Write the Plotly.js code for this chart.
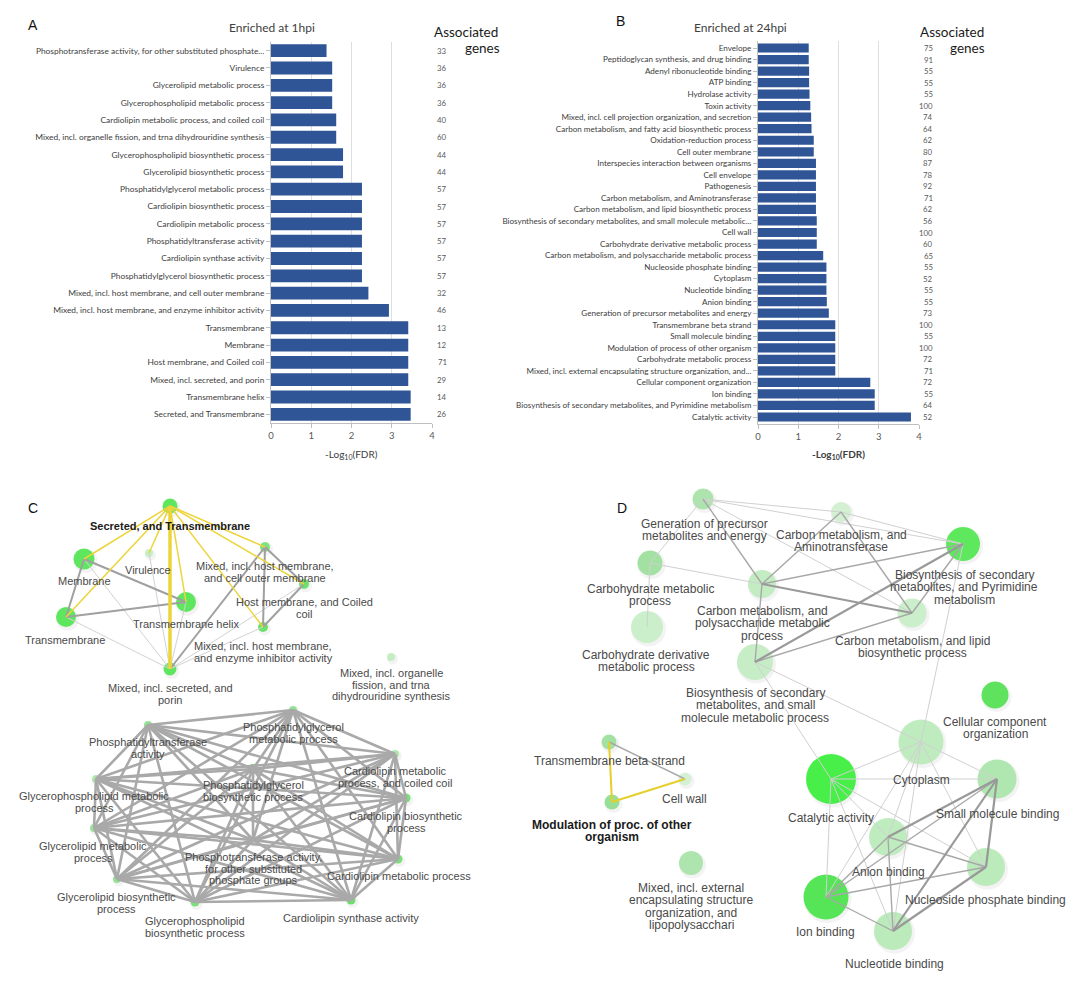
<!DOCTYPE html>
<html><head><meta charset="utf-8">
<script src="https://cdn.plot.ly/plotly-3.0.1.min.js"></script>
<style>html,body{margin:0;padding:0;background:#fff}#chart{width:1080px;height:981px}</style>
</head><body><div id="chart"></div>
<script>
// ---------- Panel A data ----------
const termsA = ["Phosphotransferase activity, for other substituted phosphate...","Virulence","Glycerolipid metabolic process","Glycerophospholipid metabolic process","Cardiolipin metabolic process, and coiled coil","Mixed, incl. organelle fission, and trna dihydrouridine synthesis","Glycerophospholipid biosynthetic process","Glycerolipid biosynthetic process","Phosphatidylglycerol metabolic process","Cardiolipin biosynthetic process","Cardiolipin metabolic process","Phosphatidyltransferase activity","Cardiolipin synthase activity","Phosphatidylglycerol biosynthetic process","Mixed, incl. host membrane, and cell outer membrane","Mixed, incl. host membrane, and enzyme inhibitor activity","Transmembrane","Membrane","Host membrane, and Coiled coil","Mixed, incl. secreted, and porin","Transmembrane helix","Secreted, and Transmembrane"];
const fdrA = [1.38,1.52,1.52,1.52,1.62,1.62,1.79,1.79,2.26,2.26,2.26,2.26,2.26,2.26,2.42,2.93,3.41,3.41,3.41,3.41,3.47,3.47];
const genesA = [33,36,36,36,40,60,44,44,57,57,57,57,57,57,32,46,13,12,71,29,14,26];

// ---------- Panel B data ----------
const termsB = ["Envelope","Peptidoglycan synthesis, and drug binding","Adenyl ribonucleotide binding","ATP binding","Hydrolase activity","Toxin activity","Mixed, incl. cell projection organization, and secretion","Carbon metabolism, and fatty acid biosynthetic process","Oxidation-reduction process","Cell outer membrane","Interspecies interaction between organisms","Cell envelope","Pathogenesis","Carbon metabolism, and Aminotransferase","Carbon metabolism, and lipid biosynthetic process","Biosynthesis of secondary metabolites, and small molecule metabolic...","Cell wall","Carbohydrate derivative metabolic process","Carbon metabolism, and polysaccharide metabolic process","Nucleoside phosphate binding","Cytoplasm","Nucleotide binding","Anion binding","Generation of precursor metabolites and energy","Transmembrane beta strand","Small molecule binding","Modulation of process of other organism","Carbohydrate metabolic process","Mixed, incl. external encapsulating structure organization, and...","Cellular component organization","Ion binding","Biosynthesis of secondary metabolites, and Pyrimidine metabolism","Catalytic activity"];
const fdrB = [1.26,1.26,1.27,1.27,1.28,1.30,1.32,1.33,1.385,1.385,1.44,1.44,1.44,1.44,1.44,1.46,1.46,1.46,1.62,1.70,1.70,1.70,1.71,1.76,1.92,1.92,1.92,1.92,1.92,2.79,2.90,2.90,3.80];
const genesB = [75,91,55,55,55,100,74,64,62,80,87,78,92,71,62,56,100,60,65,55,52,55,55,73,100,55,100,72,71,72,55,64,52];

// ---------- Panel C network ----------
const nodesC = ["Secreted, and Transmembrane","Membrane","Virulence","Transmembrane helix","Transmembrane","Mixed, incl. host membrane,\nand cell outer membrane","Host membrane, and Coiled\ncoil","Mixed, incl. host membrane,\nand enzyme inhibitor activity","Mixed, incl. secreted, and\nporin","Mixed, incl. organelle\nfission, and trna\ndihydrouridine synthesis","Phosphatidylglycerol\nmetabolic process","Phosphatidyltransferase\nactivity","Cardiolipin metabolic\nprocess, and coiled coil","Phosphatidylglycerol\nbiosynthetic process","Glycerophospholipid metabolic\nprocess","Cardiolipin biosynthetic\nprocess","Glycerolipid metabolic\nprocess","Phosphotransferase activity,\nfor other substituted\nphosphate groups","Cardiolipin metabolic process","Glycerolipid biosynthetic\nprocess","Glycerophospholipid\nbiosynthetic process","Cardiolipin synthase activity"];
const cX = [170,84,149,186,66,265,304,263,170,391,293,148,395,253,96,406,94,253,398,117,195,351];
const cY = [506,559,553,602,617,547,584,627,669,657,710,725,754,769,779,798,828,840,859,879,902,900];
const cSize = [15,21,8,20,20,10,10,10,13,8,8,8,8,10,8,9,8,7,9,8,9,9];
const cColor = ["#1fdf1f","#1fe01f","#b0eeb0","#1fe01f","#1fe01f","#4edb4e","#2fdc2f","#2fdc2f","#1fdf1f","#aeeaae","#6cd96c","#6cd96c","#8fe08f","#2fcc2f","#8fe08f","#44d844","#7bdc7b","#9ddd9d","#44d844","#6cd96c","#44d844","#33d633"];
const cLabX = [170,84,148,186,65,265,304,263,170,391,293,148,395,253,94,406,93,253,399,116,195,351];
const cLabY = [526,581,570,624,640,566,602,646,688,673,727,742,771,785,796,816,846,857,876,897,921,918];
const cBold = [0];
const edgesCYellow = [[0,1],[0,2],[0,3],[0,4],[0,5],[0,6],[0,7]];
const edgesCYellowThick = [[0,8]];
const edgesCGray = [[1,4],[1,3],[4,3],[5,6],[5,7],[6,7],[8,5]];
const edgesCLight = [[1,8],[4,8],[2,8],[3,8],[8,7],[8,6]];
const edgesCCluster = [[10,11],[10,12],[10,13],[10,14],[10,15],[10,16],[10,17],[10,18],[10,19],[10,20],[10,21],
 [11,12],[11,13],[11,14],[11,15],[11,16],[11,17],[11,18],[11,19],[11,20],[11,21],
 [12,13],[12,14],[12,15],[12,16],[12,17],[12,18],[12,19],[12,20],[12,21],
 [13,14],[13,15],[13,16],[13,17],[13,18],[13,19],[13,20],[13,21],
 [14,15],[14,16],[14,17],[14,18],[14,19],[14,20],[14,21],
 [15,16],[15,17],[15,18],[15,19],[15,20],[15,21],
 [16,17],[16,18],[16,19],[16,20],[16,21],
 [17,18],[17,19],[17,20],[17,21],
 [18,19],[18,20],[18,21],
 [19,20],[19,21],
 [20,21]];

// ---------- Panel D network ----------
const nodesD = ["Generation of precursor\nmetabolites and energy","Carbon metabolism, and\nAminotransferase","Biosynthesis of secondary\nmetabolites, and Pyrimidine\nmetabolism","Carbohydrate metabolic\nprocess","Carbon metabolism, and\npolysaccharide metabolic\nprocess","Carbon metabolism, and lipid\nbiosynthetic process","Carbohydrate derivative\nmetabolic process","Biosynthesis of secondary\nmetabolites, and small\nmolecule metabolic process","Cellular component\norganization","Cytoplasm","Catalytic activity","Small molecule binding","Anion binding","Nucleoside phosphate binding","Ion binding","Nucleotide binding","Transmembrane beta strand","Cell wall","Modulation of proc. of other\norganism","Mixed, incl. external\nencapsulating structure\norganization, and\nlipopolysacchari"];
const dX = [703,841,963,650,762,912,647,755,995,921,831,997,888,986,826,893,609,685,612,691];
const dY = [499,512,544,563,584,613,627,662,695,742,779,779,837,867,897,931,742,779,802,863];
const dSize = [21,20,34,25,28,29,32,36,27,45,50,39,38,38,45,38,15,13,15,24];
const dColor = ["#8fdc8f","#c4eec4","#1ee21e","#80d880","#aee8ae","#b8ecb8","#b9ecb9","#b3e9b3","#1fdc1f","#a8e8a8","#00ec00","#93e193","#a8e8a8","#a2e5a2","#12de12","#a2e5a2","#80d880","#c8f0c8","#6fd46f","#90dd90"];
const dLabX = [704,841,964,650,762,912,646,755,995,921,831,997,888,985,825,894,609,684,612,691];
const dLabY = [524,535,575,589,611,641,655,693,722,780,818,814,872,900,932,964,761,799,825,888];
const dBold = [18];
const edgesDThin = [[0,1],[0,2],[0,3],[0,5],[1,2],[3,6],[3,4],[2,9],[7,9],[7,10],[9,10],[9,11],[9,12],[9,13],[9,14],[9,15],[10,11],[10,14],[10,13],[10,15],[10,12]];
const edgesDMid = [[0,4],[1,4],[1,5],[4,2],[5,2],[7,5],[4,7],[16,17],[12,13],[12,15],[12,14],[14,11],[14,13],[14,15]];
const edgesDThick = [[4,5],[7,2],[12,11],[11,13],[11,15],[13,15]];
const edgesDYellow = [[16,18],[18,17]];

// ---------- Build ----------
const PX = v => v/1080, PY = v => 1 - v/981;
const barFont = 'Lato, "Liberation Sans", sans-serif';
const netFont = '"Liberation Sans", Arial, sans-serif';
const traces = [];

traces.push({type:'bar', orientation:'h', x:fdrA, y:termsA, xaxis:'x', yaxis:'y', width:0.74,
  marker:{color:'#2F5597'}, hoverinfo:'none', showlegend:false});
traces.push({type:'bar', orientation:'h', x:fdrB, y:termsB, xaxis:'x2', yaxis:'y2', width:0.8,
  marker:{color:'#2F5597'}, hoverinfo:'none', showlegend:false});

function nodeTraces(X, Y, S, C, xa, ya){
  return [
    {type:'scatter', mode:'markers', x:X.map(v=>v+1.5), y:Y.map(v=>v+2), xaxis:xa, yaxis:ya,
      marker:{size:S.map(s=>s+3), color:'rgba(0,0,0,0.07)', line:{width:0}}, hoverinfo:'skip', showlegend:false},
    {type:'scatter', mode:'markers', x:X, y:Y, xaxis:xa, yaxis:ya,
      marker:{size:S, color:C, line:{width:0}}, hoverinfo:'skip', showlegend:false}
  ];
}
function edgeTrace(X, Y, list, color, width, xa, ya){
  const xs=[], ys=[];
  list.forEach(([i,j])=>{xs.push(X[i],X[j],null); ys.push(Y[i],Y[j],null);});
  return {type:'scatter', mode:'lines', x:xs, y:ys, xaxis:xa, yaxis:ya,
    line:{color:color, width:width}, hoverinfo:'skip', showlegend:false};
}

traces.push(...nodeTraces(cX,cY,cSize,cColor,'x3','y3'));
traces.push(edgeTrace(cX,cY,edgesCCluster,'#a9a9a9',2.6,'x3','y3'));
traces.push(edgeTrace(cX,cY,edgesCLight,'#d2d2d2',1,'x3','y3'));
traces.push(edgeTrace(cX,cY,edgesCGray,'#a0a0a0',2,'x3','y3'));
traces.push(edgeTrace(cX,cY,edgesCYellow,'#ecd43a',1.5,'x3','y3'));
traces.push(edgeTrace(cX,cY,edgesCYellowThick,'#ecd43a',3.5,'x3','y3'));

traces.push(...nodeTraces(dX,dY,dSize,dColor,'x4','y4'));
traces.push(edgeTrace(dX,dY,edgesDThin,'#d0d0d0',1,'x4','y4'));
traces.push(edgeTrace(dX,dY,edgesDMid,'#a8a8a8',1.4,'x4','y4'));
traces.push(edgeTrace(dX,dY,edgesDThick,'#999999',2.2,'x4','y4'));
traces.push(edgeTrace(dX,dY,edgesDYellow,'#e6cf2a',2,'x4','y4'));

const ann = [];
function paperText(text, x, y, font){
  ann.push({text:text, x:PX(x), y:PY(y), xref:'paper', yref:'paper', showarrow:false,
    xanchor:'center', yanchor:'middle', font:font});
}
// panel letters
[['A',33,25],['B',620,21],['C',33,508],['D',622,508]].forEach(([t,x,y])=>paperText(t,x,y,{family:netFont, size:14, color:'#111'}));
// chart titles
paperText('Enriched at 1hpi', 272, 28, {family:barFont, size:12, color:'#404040'});
paperText('Enriched at 24hpi', 740, 28, {family:barFont, size:12, color:'#404040'});
// associated genes headers
[[466,32,'Associated'],[482,48,'genes'],[952,32,'Associated'],[967,48,'genes']].forEach(([x,y,t])=>
  paperText(t, x, y, {family:barFont, size:13.5, color:'#1a1a1a'}));
// axis titles
paperText('-Log<sub>10</sub>(FDR)', 351, 454, {family:barFont, size:10, color:'#404040'});
paperText('<b>-Log<sub>10</sub>(FDR)</b>', 838, 454, {family:barFont, size:10, color:'#404040'});
// genes columns
termsA.forEach((t,i)=>ann.push({text:String(genesA[i]), x:PX(449), xref:'paper', y:t, yref:'y', showarrow:false,
  xanchor:'right', yanchor:'middle', font:{family:barFont, size:7.8, color:'#595959'}}));
termsB.forEach((t,i)=>ann.push({text:String(genesB[i]), x:PX(935), xref:'paper', y:t, yref:'y2', showarrow:false,
  xanchor:'right', yanchor:'middle', font:{family:barFont, size:7.8, color:'#595959'}}));
// network labels
function labels(names, LX, LY, bold, xa, ya, size, lh){
  names.forEach((n,i)=>{
    n.split('\n').forEach((line,k)=>{
      const b = bold.includes(i);
      ann.push({text: b ? '<b>'+line+'</b>' : line, x:LX[i], y:LY[i]+k*lh, xref:xa, yref:ya, showarrow:false,
        xanchor:'center', yanchor:'middle', font:{family:netFont, size:size, color: b ? '#1a1a1a' : '#4a4a4a'}});
    });
  });
}
labels(nodesC, cLabX, cLabY, cBold, 'x3', 'y3', 11, 11.5);
labels(nodesD, dLabX, dLabY, dBold, 'x4', 'y4', 12, 12.3);

const axCommonX = {range:[0,4], dtick:1, tick0:0, showgrid:true, gridcolor:'#dedede', gridwidth:1, zeroline:false,
  showline:true, linecolor:'#bfbfbf', ticks:'outside', ticklen:4, tickcolor:'#bfbfbf',
  tickfont:{family:barFont, size:9.5, color:'#595959'}, fixedrange:true};
const layout = {
  width:1080, height:981, margin:{l:0,r:0,t:0,b:0}, paper_bgcolor:'#fff', plot_bgcolor:'rgba(0,0,0,0)',
  showlegend:false, annotations:ann,
  xaxis: Object.assign({}, axCommonX, {domain:[PX(271),PX(432)], anchor:'y'}),
  yaxis: {domain:[PY(423),PY(42)], anchor:'x', type:'category', autorange:'reversed', tickmode:'array',
    tickvals:termsA, ticktext:termsA, showgrid:false, showline:true, linecolor:'#bfbfbf', ticks:'outside', ticklen:4,
    tickcolor:'#bfbfbf', tickfont:{family:barFont, size:8.4, color:'#404040'}, fixedrange:true},
  xaxis2: Object.assign({}, axCommonX, {domain:[PX(758),PX(919)], anchor:'y2'}),
  yaxis2: {domain:[PY(424),PY(41)], anchor:'x2', type:'category', autorange:'reversed', tickmode:'array',
    tickvals:termsB, ticktext:termsB, showgrid:false, showline:true, linecolor:'#bfbfbf', ticks:'outside', ticklen:4,
    tickcolor:'#bfbfbf', tickfont:{family:barFont, size:8.1, color:'#404040'}, fixedrange:true},
  xaxis3: {domain:[0,0.5], range:[0,540], visible:false, anchor:'y3', fixedrange:true},
  yaxis3: {domain:[0,PY(470)], range:[981,470], visible:false, anchor:'x3', fixedrange:true},
  xaxis4: {domain:[0.5,1], range:[540,1080], visible:false, anchor:'y4', fixedrange:true},
  yaxis4: {domain:[0,PY(470)], range:[981,470], visible:false, anchor:'x4', fixedrange:true}
};
Plotly.newPlot('chart', traces, layout, {displayModeBar:false, staticPlot:true});
</script>
</body></html>
